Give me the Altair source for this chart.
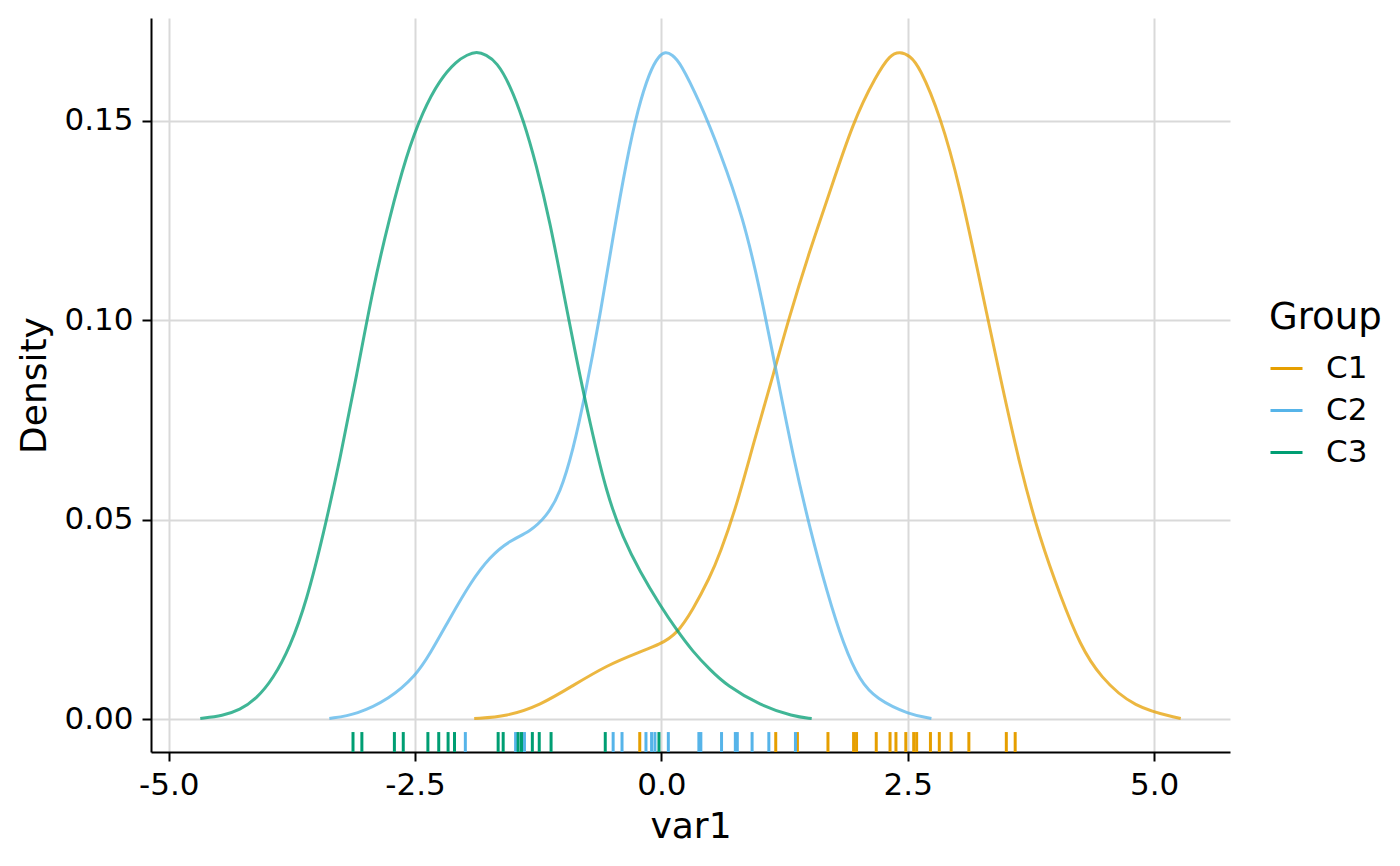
import altair as alt
import pandas as pd

# Density curves
c1_x = [-1.90, -1.57, -1.23, -0.895, -0.556, -0.218, -0.015, 0.154, 0.32, 0.49, 0.594, 0.763, 0.93, 1.15, 1.287, 1.51, 1.68, 1.947, 2.18, 2.32, 2.42, 2.52, 2.62, 2.83, 3.03, 3.23, 3.44, 3.64, 3.84, 4.05, 4.25, 4.45, 4.79, 5.27]
c1_y = [0.0002, 0.0007, 0.0035, 0.0085, 0.0135, 0.0169, 0.0188, 0.0213, 0.0275, 0.0355, 0.0415, 0.0535, 0.0688, 0.0877, 0.100, 0.1179, 0.130, 0.150, 0.1614, 0.1666, 0.1674, 0.1664, 0.1636, 0.1513, 0.1335, 0.110, 0.0855, 0.0632, 0.0453, 0.0308, 0.0185, 0.0107, 0.0029, 0.0002]

c2_x = [-3.37, -3.09, -2.76, -2.50, -2.35, -2.15, -1.94, -1.74, -1.54, -1.335, -1.165, -1.03, -0.895, -0.777, -0.624, -0.49, -0.353, -0.24, -0.117, -0.03, 0.04, 0.11, 0.19, 0.39, 0.594, 0.83, 1.00, 1.17, 1.34, 1.51, 1.68, 1.85, 2.015, 2.18, 2.51, 2.74]
c2_y = [0.0002, 0.0012, 0.0051, 0.0107, 0.0163, 0.0252, 0.0342, 0.0408, 0.0448, 0.047, 0.0509, 0.0565, 0.0676, 0.081, 0.101, 0.1212, 0.1402, 0.153, 0.1625, 0.1662, 0.1674, 0.1666, 0.1647, 0.1547, 0.1424, 0.1257, 0.1078, 0.0866, 0.0654, 0.0475, 0.0319, 0.0185, 0.0096, 0.0051, 0.0012, 0.0002]

c3_x = [-4.68, -4.45, -4.28, -4.11, -3.94, -3.77, -3.60, -3.43, -3.26, -3.09, -2.93, -2.76, -2.59, -2.42, -2.25, -2.08, -1.97, -1.876, -1.78, -1.67, -1.54, -1.40, -1.27, -1.13, -1.00, -0.86, -0.726, -0.556, -0.388, -0.218, -0.015, 0.154, 0.32, 0.49, 0.66, 1.00, 1.34, 1.525]
c3_y = [0.0002, 0.0009, 0.0023, 0.0051, 0.0102, 0.018, 0.0297, 0.0464, 0.0654, 0.0866, 0.1078, 0.1257, 0.1413, 0.1525, 0.1603, 0.165, 0.1666, 0.1674, 0.1666, 0.1647, 0.1592, 0.1502, 0.139, 0.1246, 0.1078, 0.090, 0.0743, 0.0565, 0.0453, 0.037, 0.0286, 0.0224, 0.0169, 0.0125, 0.0085, 0.0035, 0.0007, 0.0002]

# Rug observations
rug_c1 = [-0.22, 1.16, 1.38, 1.69, 1.95, 1.98, 2.18, 2.32, 2.38, 2.48, 2.56, 2.59, 2.73, 2.82, 2.94, 3.12, 3.50, 3.59]
rug_c2 = [-1.99, -1.48, -1.39, -0.49, -0.40, -0.157, -0.10, -0.066, 0.07, 0.38, 0.40, 0.61, 0.75, 0.77, 0.92, 1.09, 1.36]
rug_c3 = [-3.13, -3.04, -2.71, -2.62, -2.37, -2.26, -2.165, -2.10, -1.657, -1.606, -1.454, -1.42, -1.31, -1.24, -1.12, -0.57, -0.025]

groups = ["C1", "C2", "C3"]
colors = ["#E69F00", "#56B4E9", "#009E73"]
x_ticks = [-5.0, -2.5, 0.0, 2.5, 5.0]
y_ticks = [0.0, 0.05, 0.10, 0.15]
x_domain = [-5.18, 5.77]
y_domain = [-0.0082, 0.1758]
rug_top = -0.0032

dens = pd.concat([
    pd.DataFrame({"var1": c1_x, "Density": c1_y, "Group": "C1"}),
    pd.DataFrame({"var1": c2_x, "Density": c2_y, "Group": "C2"}),
    pd.DataFrame({"var1": c3_x, "Density": c3_y, "Group": "C3"}),
], ignore_index=True)
rug = pd.concat([
    pd.DataFrame({"var1": rug_c1, "Group": "C1"}),
    pd.DataFrame({"var1": rug_c2, "Group": "C2"}),
    pd.DataFrame({"var1": rug_c3, "Group": "C3"}),
], ignore_index=True)

FONT = "DejaVu Sans"
color_scale = alt.Scale(domain=groups, range=colors)
xs = alt.Scale(domain=x_domain, nice=False, zero=False)
ys = alt.Scale(domain=y_domain, nice=False, zero=False)

x_axis = alt.Axis(values=x_ticks, title="var1",
                  labelExpr="datum.value < 0 ? '-' + format(-datum.value, '.1f') : format(datum.value, '.1f')")
y_axis = alt.Axis(values=y_ticks, title="Density", format=".2f")

lines = alt.Chart(dens).mark_line(strokeWidth=3, opacity=0.75, interpolate="basis").encode(
    x=alt.X("var1:Q", scale=xs, axis=x_axis),
    y=alt.Y("Density:Q", scale=ys, axis=y_axis),
    color=alt.Color("Group:N", scale=color_scale,
                    legend=alt.Legend(title="Group", symbolType="stroke", symbolSize=1024,
                                      symbolStrokeWidth=3, symbolOpacity=1,
                                      orient="none", legendX=1118, legendY=282)),
    detail="Group:N",
)

rugs = alt.Chart(rug).mark_rule(strokeWidth=3).encode(
    x=alt.X("var1:Q", scale=xs),
    y=alt.datum(y_domain[0]),
    y2=alt.datum(rug_top),
    color=alt.Color("Group:N", scale=color_scale, legend=None),
)

chart = alt.layer(lines, rugs).properties(
    width=1079, height=734,
    autosize=alt.AutoSizeParams(type="none"),
    padding={"left": 143, "top": 10, "right": 162, "bottom": 106},
).configure_view(stroke=None).configure_axis(
    labelFont=FONT, titleFont=FONT, labelFontSize=31, titleFontSize=36,
    labelColor="black", titleColor="black", titleFontWeight="normal",
    domainColor="black", domainWidth=2, tickColor="black", tickWidth=2, tickSize=9,
    gridColor="#D9D9D9", gridWidth=2, labelPadding=9,
).configure_axisX(titlePadding=9, labelPadding=9).configure_axisY(titlePadding=10).configure_legend(
    labelFont=FONT, titleFont=FONT, labelFontSize=31, titleFontSize=37,
    titleFontWeight="normal", labelColor="black", titleColor="black",
    rowPadding=9, labelOffset=22, padding=0, titlePadding=14,
)

chart.save("out.html", embed_options={"renderer": "svg", "actions": False})
